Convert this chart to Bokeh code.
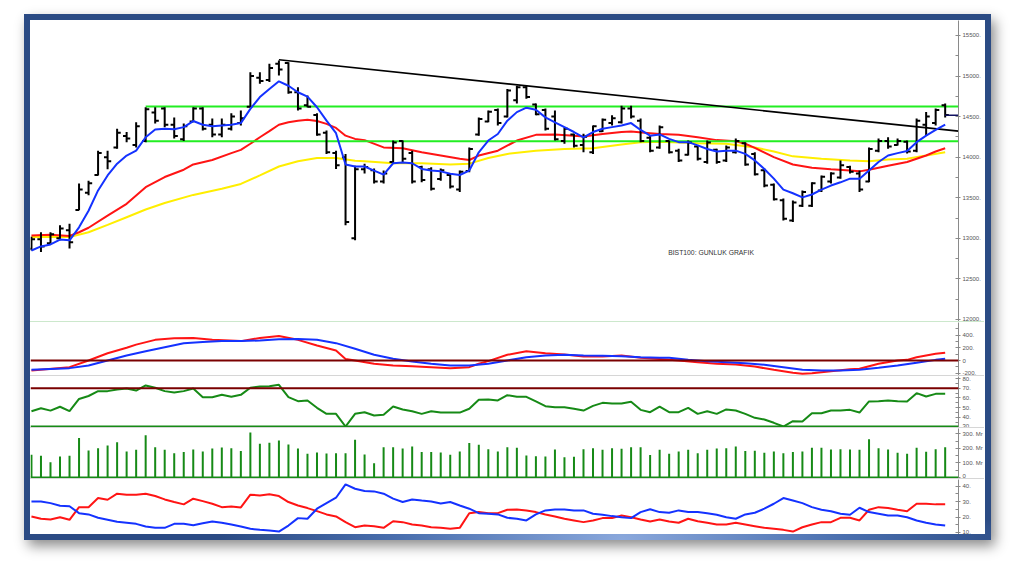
from bokeh.plotting import figure
from bokeh.layouts import column
from bokeh.models import Range1d, FixedTicker, ColumnDataSource, Span, Div
from bokeh.transform import dodge
from bokeh.core.properties import value
from bokeh.embed import file_html
from bokeh.resources import INLINE

# ---------------- data ----------------
highs = [13020,13075,13075,13160,13180,13675,13710,14080,14080,14350,14310,14430,14615,14615,14615,14490,14415,14615,14615,14475,
         14475,14540,14575,15045,15045,15150,15190,15170,14860,14760,14540,14330,14080,14040,13895,13920,13860,13835,14205,14205,
         14080,13895,13875,13860,13800,13835,14120,14490,14575,14600,14840,14880,14880,14660,14600,14575,14370,14290,14290,14390,
         14475,14515,14635,14635,14475,14265,14390,14205,14105,14205,14145,14205,14105,14145,14230,14185,14060,13860,13675,13490,
         13465,13590,13690,13775,13815,13960,13895,13835,14120,14230,14245,14230,14205,14475,14555,14600,14660]
lows = [12850,12830,12935,12975,12875,13345,13530,13775,13850,14105,14185,14120,14185,14415,14370,14230,14200,14430,14330,14245,
        14245,14330,14390,14615,14905,14925,15005,14780,14575,14615,14265,14040,13855,13160,12975,13800,13675,13675,13920,13940,
        13675,13690,13590,13710,13615,13570,13815,14265,14430,14390,14490,14660,14720,14515,14330,14205,14165,14120,14060,14040,
        14310,14390,14415,14475,14185,14060,14105,14045,13940,14020,13960,13920,13920,13940,14045,13895,13775,13630,13465,13220,
        13200,13385,13385,13570,13675,13735,13800,13570,13690,14060,14105,14145,14045,14060,14265,14390,14490]
opens = [12870,12990,12940,13000,13100,13350,13560,13780,14000,14120,14260,14150,14200,14550,14600,14400,14220,14440,14600,14400,
         14280,14350,14420,14620,14980,14950,15150,15160,14800,14640,14520,14300,14050,14000,13000,13850,13840,13700,13940,14200,
         14050,13880,13850,13730,13780,13600,13830,14280,14440,14580,14500,14700,14860,14650,14580,14500,14200,14280,14150,14060,
         14320,14420,14430,14600,14450,14240,14120,14200,14080,14030,14130,13940,14090,13960,14060,14170,14040,13840,13660,13470,
         13220,13400,13400,13590,13700,13750,13880,13800,13700,14080,14200,14150,14190,14080,14400,14420,14640]
closes = [12990,12900,13050,13120,12950,13600,13680,14050,13950,14300,14230,14380,14590,14450,14400,14260,14380,14600,14350,14280,
          14400,14500,14480,15000,14940,15100,15080,14800,14600,14620,14280,14060,13900,13200,13850,13880,13700,13800,14180,13980,
          13700,13720,13610,13840,13640,13820,14100,14470,14560,14420,14820,14860,14740,14530,14350,14220,14350,14140,14250,14380,
          14460,14480,14600,14500,14200,14080,14370,14060,13960,14180,13980,14180,13940,14120,14200,13910,13790,13650,13480,13240,
          13440,13570,13680,13760,13800,13900,13820,13600,14100,14200,14130,14200,14070,14450,14500,14580,14520]

ma_blue = [12850,12900,12925,12985,12975,13135,13340,13590,13775,13920,14020,14080,14245,14340,14350,14345,14370,14445,14400,14380,
           14390,14400,14420,14595,14740,14840,14935,14880,14800,14745,14615,14450,14295,13910,13885,13885,13835,13785,13925,13935,
           13925,13855,13835,13825,13795,13780,13835,14060,14205,14285,14450,14555,14610,14585,14490,14430,14370,14310,14245,14310,
           14350,14370,14390,14420,14335,14265,14280,14225,14185,14185,14145,14100,14070,14080,14080,14040,13960,13855,13735,13600,
           13555,13505,13540,13600,13650,13690,13735,13735,13835,13940,14020,14050,14075,14185,14265,14335,14400]
ma_red_x = [0,2,4,5,6,8,10,12,14,16,17,19,21,22,23,24,25,26,27,28,29,30,31,32,33,34,35,37,39,41,43,45,46,47,49,51,53,55,57,58,
            60,62,63,65,66,68,70,72,74,75,76,78,80,82,84,86,87,88,90,92,93,94,95,96]
ma_red_y = [13035,13045,13030,13075,13130,13280,13425,13630,13755,13845,13910,13965,14050,14090,14165,14245,14320,14400,14430,14450,
            14460,14445,14410,14360,14265,14225,14210,14120,14110,14060,14020,13980,13965,14020,14080,14205,14275,14280,14265,14255,
            14285,14310,14315,14295,14285,14275,14245,14210,14195,14165,14115,14000,13910,13870,13850,13835,13825,13845,13895,13940,
            13980,14020,14070,14110]
ma_yel_x = [0,4,6,8,10,12,14,17,20,22,24,26,28,30,32,34,35,38,41,44,46,48,50,53,56,59,62,64,66,70,73,76,78,80,83,86,88,90,92,94,96]
ma_yel_y = [13015,13015,13075,13165,13260,13355,13435,13535,13610,13670,13775,13885,13950,13990,13990,13955,13950,13925,13925,13910,
            13920,13990,14040,14080,14100,14110,14155,14185,14190,14170,14165,14120,14070,14010,13980,13960,13950,13970,13980,14020,14060]

trend_x = [26, 97.4]
trend_y = [15200, 14320]
levels = [14625, 14195]
level_start = 12
last_price = 14515
title_text = "BIST100: GUNLUK GRAFIK"
title_pos = (66.9, 12820)

macd_x = [0,4,6,8,10,11,13,15,17,19,22,24,26,28,30,32,33,34,36,38,40,42,44,46,47,48,50,52,54,56,58,60,62,64,66,68,70,72,74,76,
          78,80,81,82,84,86,87,89,91,92,93,94,95,96]
macd_y = [-158,-105,0,115,200,250,325,350,355,325,305,355,385,325,235,158,25,0,-52,-80,-90,-105,-120,-105,-52,-10,90,147,115,95,
          63,63,80,45,25,0,-26,-52,-63,-95,-147,-194,-210,-200,-168,-137,-131,-52,0,10,52,80,105,121]
sig_x = [0,4,6,8,10,12,14,16,18,20,22,24,26,28,30,32,34,36,38,40,42,44,46,48,50,52,54,56,58,60,62,64,66,67,69,71,73,75,77,79,
         81,83,85,87,89,91,93,95,96]
sig_y = [-147,-120,-80,0,80,147,210,273,290,305,305,315,335,340,325,273,184,90,26,-16,-52,-80,-80,-52,0,52,80,90,80,74,68,52,45,42,
         10,-10,-26,-42,-68,-105,-147,-158,-158,-147,-115,-80,-37,10,26]

rsi = [46.4,49.5,47,51,46.4,59,62,67,67,68.7,69.7,67.6,72.8,70.4,67,65.6,67,69.7,60.8,60.8,63.2,61.2,63.2,70.4,71.7,72,73.5,60.8,
       56.7,57.4,49.9,43.7,43.7,30.7,43.7,45.4,42,42.7,51.2,48.2,46.4,43.7,46.4,45,45,45,48.9,58.1,58.4,57.4,62.8,61.2,61.2,56.4,
       51.6,50.5,50.5,48.9,47.1,51.9,55,54.3,54.3,56,47.8,45.4,51.2,45.4,45.4,49.9,43.7,46.4,43.7,48.2,47.1,43.7,39.6,37.9,34.5,
       30.7,36.2,35.8,44.4,44.4,47.1,47.1,47.8,45,56.4,56.7,57.4,56.7,56.4,64.9,61.5,64.2,64.2]

volume = [156,149,105,144,149,270,185,201,220,242,178,190,290,208,190,167,174,192,178,199,206,201,181,309,231,238,254,227,199,163,
          172,165,167,167,259,158,98,208,208,199,213,174,174,172,156,178,236,224,194,178,208,204,151,146,144,192,139,142,194,201,
          190,201,197,208,208,155,190,163,178,190,167,190,199,201,213,181,183,170,178,167,174,178,204,204,192,194,192,190,263,201,
          192,170,163,204,176,194,208]

dmi_minus = [30.1,30.1,29,27.3,27,22.5,21.7,19.5,18.2,16.9,16.3,15.6,13.9,13,13,15.6,15.6,14.7,16,17.1,16.3,15.2,13.9,12.4,11.7,
             11.3,10.6,14.5,19.3,18.9,25.4,29,32.5,41.1,38.3,36.8,36.6,35.1,31.9,29.7,31.4,30.7,30.1,28.8,29.7,27.5,25.4,22.5,
             22.1,21.7,19.5,18.9,17.8,21.7,24.3,24.9,24.9,24.3,24.3,22.1,21.5,20.6,19.9,19.3,23.2,25,23.2,22.8,24.3,23.2,23.2,
             22.5,21.5,19.9,18.9,21.7,22.8,25.4,28.6,32.3,30.7,29,26.4,24.7,23.8,22.1,21.5,26,23.2,22.1,21,21,19.9,17.8,16.3,15.2,14.5]
dmi_plus = [20.4,18.9,18.4,19.9,18.2,26.4,26.4,32.3,31.2,35.1,34.5,34.5,35.1,33.6,31.4,29.7,28.2,31.9,30.3,28.6,26.4,26.9,26.2,
            34.5,34,34.7,33.6,29.7,27.5,25.8,23.8,21.7,20.4,16.7,13.4,14.5,14.1,13,17.3,16.7,15.2,14.5,13.4,13,12.4,13,22.5,23.2,
            22.5,22.5,24.7,24.9,24.3,23.2,21.7,20.4,18.9,17.8,16.7,17.8,19.3,19.3,21,19.9,18.4,17.1,18.4,17.1,16.3,18.9,17.3,16.3,
            15.2,15.2,16.3,15.2,14.1,13,12.4,11.7,10.6,13.4,15.2,16.7,16.7,19.5,19.5,17.8,24.7,26.4,25.8,24.7,23.8,28.6,28.6,28.2,28.2]

main_ticks = [12000,12500,13000,13500,14000,14500,15000,15500]
macd_ticks = [-200,0,200,400,600]
rsi_ticks = [30,40,50,60,70,80]
vol_ticks = [0,100,200,300]
dmi_ticks = [10,20,30,40]

idx = list(range(len(highs)))

# ---------------- style ----------------
FRAME_W = 928
XR = Range1d(-0.1, 97.4)
LABEL_FONT = "Liberation Sans"
BLUE = "#1432ff"
RED = "#ff1414"
YELLOW = "#ffee00"
LIME = "#22ee22"
DKRED = "#7a0000"
GREEN = "#168a16"


def make_fig(h, lo, hi, ticks, minor, labels):
    p = figure(frame_width=FRAME_W, frame_height=h, x_range=XR, y_range=Range1d(lo, hi),
               output_backend="svg", toolbar_location=None, y_axis_location="right",
               x_axis_location=None, min_border_left=0, min_border_right=26,
               min_border_top=0, min_border_bottom=0, outline_line_color=None,
               background_fill_color="white", border_fill_color="white")
    p.grid.visible = False
    ax = p.yaxis[0]
    ax.ticker = FixedTicker(ticks=ticks, minor_ticks=minor)
    ax.major_label_overrides = labels
    ax.axis_line_color = "#8a8a8a"
    ax.major_tick_line_color = "#8a8a8a"
    ax.minor_tick_line_color = "#8a8a8a"
    ax.major_tick_in = 3
    ax.major_tick_out = 2
    ax.minor_tick_in = 3
    ax.minor_tick_out = 0
    ax.major_label_standoff = 2
    ax.major_label_text_font = LABEL_FONT
    ax.major_label_text_font_size = "6px"
    ax.major_label_text_color = "#555555"
    return p


def dot_labels(ticks, suffix=""):
    return {t: ("0" if t == 0 else f"{t}." + suffix) for t in ticks}

# ---- main price panel ----
p1 = make_fig(301, 11975, 15684, main_ticks,
              [t + 250 for t in main_ticks] + [11750], dot_labels(main_ticks))
src = ColumnDataSource(dict(x=idx, h=highs, l=lows, o=opens, c=closes))
p1.line(ma_yel_x, ma_yel_y, line_color=YELLOW, line_width=2)
p1.line(ma_red_x, ma_red_y, line_color=RED, line_width=2)
p1.segment(x0=[level_start, level_start], y0=levels, x1=[XR.end, XR.end], y1=levels,
           line_color=LIME, line_width=2)
p1.line(trend_x, trend_y, line_color="black", line_width=1.7)
p1.segment(x0="x", y0="l", x1="x", y1="h", source=src, line_color="black", line_width=2)
p1.segment(x0=dodge("x", -0.38), y0="o", x1="x", y1="o", source=src, line_color="black", line_width=2)
p1.segment(x0="x", y0="c", x1=dodge("x", 0.38), y1="c", source=src, line_color="black", line_width=2)
p1.line(idx, ma_blue, line_color=BLUE, line_width=2)
p1.segment(x0=[idx[-1]], y0=[last_price], x1=[XR.end], y1=[last_price], line_color="#101060", line_width=1.5)
p1.text(x=[title_pos[0]], y=[title_pos[1]], text=[title_text], text_font=value(LABEL_FONT),
        text_font_size="6.8px", text_color="#333333", text_baseline="middle", text_align="left")

# ---- MACD panel ----
p2 = make_fig(53, -236, 598, macd_ticks, [-100, 100, 300, 500], dot_labels(macd_ticks))
p2.add_layout(Span(location=0, dimension="width", line_color=DKRED, line_width=2))
p2.line(macd_x, macd_y, line_color=RED, line_width=2)
p2.line(sig_x, sig_y, line_color=BLUE, line_width=2)

# ---- RSI panel ----
p3 = make_fig(51, 29.7, 82, rsi_ticks, [35, 45, 55, 65, 75], dot_labels(rsi_ticks))
p3.add_layout(Span(location=70, dimension="width", line_color=DKRED, line_width=2))
p3.add_layout(Span(location=30.4, dimension="width", line_color=GREEN, line_width=2.5))
p3.line(idx, rsi, line_color=GREEN, line_width=2)

# ---- Volume panel ----
p4 = make_fig(50, -7, 336, vol_ticks, [50, 150, 250], dot_labels(vol_ticks, " Mr"))
p4.segment(x0=idx, y0=[0] * len(idx), x1=idx, y1=volume, line_color=GREEN, line_width=2)
p4.add_layout(Span(location=0, dimension="width", line_color=GREEN, line_width=2))

# ---- DMI panel ----
p5 = make_fig(55, 8.7, 44.3, dmi_ticks, [15, 25, 35], dot_labels(dmi_ticks))
p5.line(idx, dmi_plus, line_color=RED, line_width=2)
p5.line(idx, dmi_minus, line_color=BLUE, line_width=2)


def sep(color):
    return Div(text="", width=954, height=1, margin=0,
               styles={"background-color": color, "overflow": "hidden"})


layout = column(p1, sep("#cce8cc"), p2, sep("#d6d6d6"), p3, sep("#d6d6d6"), p4, sep("#d6d6d6"), p5,
                spacing=0, margin=(14, 0, 0, 24),
                styles={"border": "6px solid #2b4b84",
                        "border-image": "radial-gradient(ellipse 42% 7% at 62% 100%, #8aa8dc 0%, #4a6fae 55%, #2b4b84 100%) 1",
                        "background-color": "white",
                        "box-shadow": "4px 6px 12px rgba(0,0,0,0.45)"})

open("out.html", "w").write(file_html(layout, INLINE, title="BIST100"))
